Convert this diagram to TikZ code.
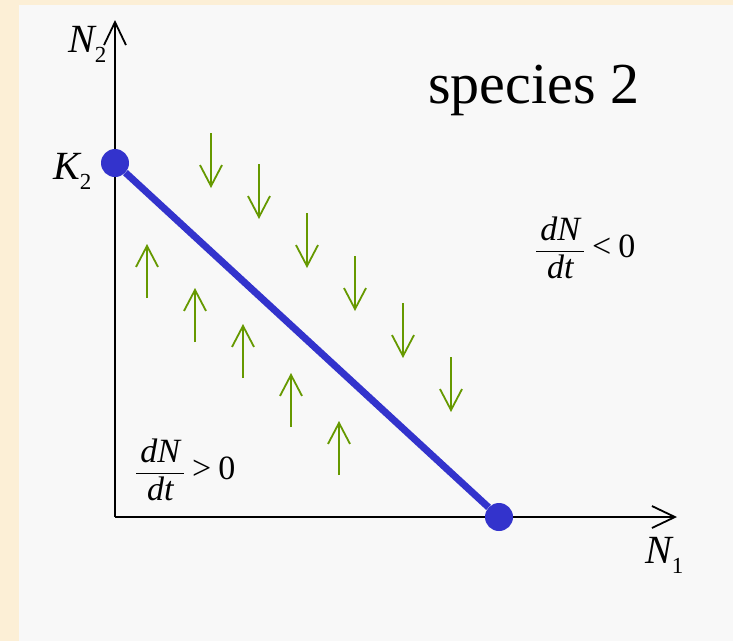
\documentclass[tikz,border=0pt]{standalone}
\usepackage{amsmath}
\usepackage{fontspec}
\setmainfont{Liberation Serif}
\usetikzlibrary{arrows.meta}

\definecolor{parch}{RGB}{252,239,214}
\definecolor{panelgray}{RGB}{248,248,248}
\definecolor{isoblue}{RGB}{51,51,204}
\definecolor{flowgreen}{RGB}{102,153,0}

\newcommand{\lowsub}[1]{\raisebox{-10pt}{\fontsize{23}{23}\selectfont\upshape #1}}

\begin{document}
\begin{tikzpicture}[x=1pt, y=-1pt,
  axis/.style={line width=1.8pt, -{Straight Barb[length=23pt,width=22pt,line width=1.8pt]}},
  flow/.style={flowgreen, line width=1.8pt, -{Straight Barb[length=21pt,width=22pt,line width=1.8pt]}},
  eqdot/.style={circle, fill=isoblue, minimum size=28pt, inner sep=0pt},
  lab/.style={font=\fontsize{40}{44}\selectfont\itshape, inner sep=0pt},
  rate/.style={font=\fontsize{34}{38}\selectfont, inner sep=0pt}
]
  % background
  \fill[parch] (0,0) rectangle (733,641);
  \fill[panelgray] (19,5) rectangle (733,641);
  \useasboundingbox (0,0) rectangle (733,641);

  % axes
  \coordinate (O) at (115,517);
  \coordinate (ytip) at (115,20);
  \coordinate (xtip) at (677,517);
  \draw[axis] (O) -- (ytip);
  \draw[axis] (O) -- (xtip);
  \node[lab, anchor=base west] (n2lab) at (68,52) {N\lowsub{2}};
  \node[lab, anchor=base west] (n1lab) at (645,563) {N\lowsub{1}};

  % isocline
  \node[eqdot] (k2) at (115,163) {};
  \node[eqdot] (k1) at (499,517) {};
  \draw[isoblue, line width=7pt] (k2) -- (k1);
  \node[lab, anchor=base west] (k2lab) at (53,179) {K\lowsub{2}};

  % flow arrows above the line
  \foreach \xx/\yy in {211/133, 259/164, 307/213, 355/256, 403/303, 451/357}
    \draw[flow] (\xx,\yy) -- ++(0,55);
  % flow arrows below the line
  \foreach \xx/\yy in {147/298, 195/342, 243/378, 291/427, 339/475}
    \draw[flow] (\xx,\yy) -- ++(0,-54);

  % texts
  \node[anchor=base west, inner sep=0pt, font=\fontsize{58}{60}\selectfont] (title) at (428,103) {species 2};
  \node[rate, anchor=west] (neg) at (535,248)
    {$\dfrac{\hspace{4pt}\textit{dN}\hspace{4pt}}{\textit{dt}}\mathrel{\text{<}}\text{0}$};
  \node[rate, anchor=west] (pos) at (135,470)
    {$\dfrac{\hspace{4pt}\textit{dN}\hspace{4pt}}{\textit{dt}}\mathrel{\text{>}}\text{0}$};
\end{tikzpicture}
\end{document}
